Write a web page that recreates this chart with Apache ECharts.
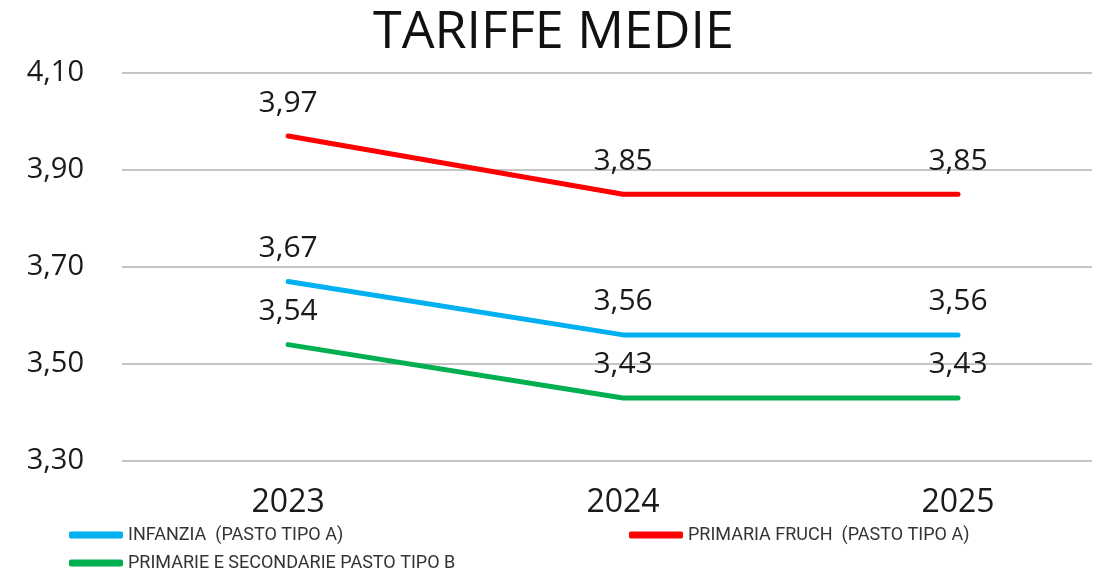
<!DOCTYPE html>
<html>
<head>
<meta charset="utf-8">
<script src="https://cdn.jsdelivr.net/npm/echarts@6/dist/echarts.min.js"></script>
<style>
  html, body { margin: 0; padding: 0; background: #fff; }
  #chart { width: 1107px; height: 572px; }
</style>
</head>
<body>
<div id="chart"></div>
<script>
const years = [2023, 2024, 2025];
const infanzia = [3.67, 3.56, 3.56];
const primariaFruch = [3.97, 3.85, 3.85];
const primarieSecondarie = [3.54, 3.43, 3.43];
const yTicks = [3.3, 3.5, 3.7, 3.9, 4.1];

const fmt = v => v.toFixed(2).replace('.', ',');
const font = 'Open Sans';

const makeSeries = (name, values, color) => ({
  name: name,
  type: 'line',
  data: years.map((y, i) => [y, values[i]]),
  showSymbol: true,
  symbol: 'circle',
  symbolSize: 0.1,
  lineStyle: { color: color, width: 5, cap: 'round' },
  itemStyle: { color: color },
  label: {
    show: true,
    position: 'top',
    distance: 18,
    formatter: p => fmt(p.value[1]),
    fontFamily: font,
    fontSize: 30,
    color: '#1a1a1a'
  }
});

const legendBase = {
  itemWidth: 54,
  itemHeight: 7,
  itemGap: 4,
  icon: 'roundRect',
  textStyle: { fontFamily: 'Roboto', fontSize: 18, color: '#333' }
};

const chart = echarts.init(document.getElementById('chart'));
chart.setOption({
  animation: false,
  title: {
    text: 'TARIFFE MEDIE',
    left: 'center',
    top: 2,
    textStyle: { fontFamily: font, fontSize: 52, fontWeight: 'normal', color: '#111' }
  },
  legend: [
    Object.assign({}, legendBase, { data: ['INFANZIA  (PASTO TIPO A)'], left: 64, top: 521 }),
    Object.assign({}, legendBase, { data: ['PRIMARIA FRUCH  (PASTO TIPO A)'], left: 624, top: 521 }),
    Object.assign({}, legendBase, { data: ['PRIMARIE E SECONDARIE PASTO TIPO B'], left: 64, top: 549 })
  ],
  grid: { left: 122, right: 15, top: 73, bottom: 111 },
  xAxis: {
    type: 'value',
    min: 2022.504,
    max: 2025.4,
    splitLine: { show: false },
    axisLine: { show: false },
    axisTick: { show: false },
    axisLabel: {
      customValues: years,
      formatter: v => String(Math.round(v)),
      margin: 26,
      fontFamily: font,
      fontSize: 32,
      color: '#1a1a1a'
    }
  },
  yAxis: {
    type: 'value',
    min: 3.3,
    max: 4.1,
    interval: 0.2,
    axisLine: { show: false },
    axisTick: { show: false },
    splitLine: { lineStyle: { color: '#c6c6c6', width: 2 } },
    axisLabel: {
      customValues: yTicks,
      formatter: v => fmt(v),
      margin: 38,
      fontFamily: font,
      fontSize: 29,
      color: '#1a1a1a'
    }
  },
  series: [
    makeSeries('INFANZIA  (PASTO TIPO A)', infanzia, '#00b0f0'),
    makeSeries('PRIMARIA FRUCH  (PASTO TIPO A)', primariaFruch, '#ff0000'),
    makeSeries('PRIMARIE E SECONDARIE PASTO TIPO B', primarieSecondarie, '#00b050')
  ]
});
</script>
</body>
</html>
